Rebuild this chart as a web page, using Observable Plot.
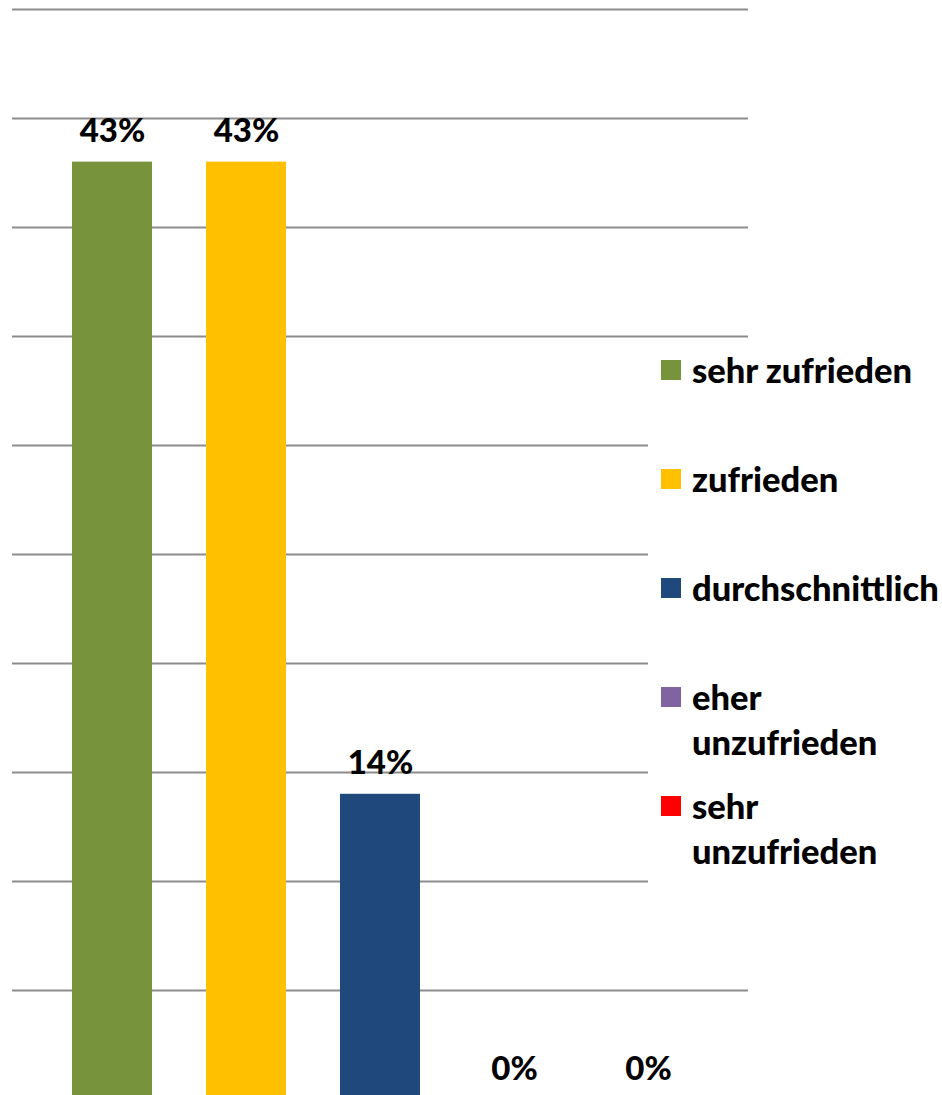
<!DOCTYPE html>
<html>
<head>
<meta charset="utf-8">
<script src="https://cdn.jsdelivr.net/npm/d3@7"></script>
<script src="https://cdn.jsdelivr.net/npm/@observablehq/plot@0.6"></script>
<style>
  html, body { margin: 0; padding: 0; background: #fff; overflow: hidden; }
  #wrap { position: relative; width: 942px; height: 1095px; }
  #legend {
    position: absolute; left: 648px; top: 347px; width: 294px; height: 538px;
    background: #fff; font-family: Lato, "Open Sans", sans-serif; font-weight: 900;
    font-size: 34.5px; color: #000;
  }
  .row { display: flex; align-items: flex-start; height: 109px; padding-left: 13px; }
  .sw { width: 20px; height: 20px; flex: none; margin-top: 13px; margin-right: 11px; }
  .lab { line-height: 45px; width: 260px; white-space: nowrap; }
</style>
</head>
<body>
<div id="wrap"></div>
<script>
const categories = ["sehr zufrieden", "zufrieden", "durchschnittlich", "eher unzufrieden", "sehr unzufrieden"];
const values = [43, 43, 14, 0, 0];
const colors = ["#77933C", "#FFC000", "#1F497D", "#8064A2", "#FF0000"];
const legendLines = [["sehr zufrieden"], ["zufrieden"], ["durchschnittlich"], ["eher", "unzufrieden"], ["sehr", "unzufrieden"]];
const gridTicks = [0, 5, 10, 15, 20, 25, 30, 35, 40, 45, 50];

const data = categories.map((c, i) => ({category: c, value: values[i]}));

const chart = Plot.plot({
  width: 942,
  height: 1100,
  marginTop: 9,
  marginBottom: 1,
  marginLeft: 12,
  marginRight: 194,
  style: {fontFamily: "Lato, 'Open Sans', sans-serif", background: "#fff", overflow: "visible"},
  x: {domain: categories, paddingInner: 0.4, paddingOuter: 0.445, axis: null},
  y: {domain: [0, 50], axis: null},
  color: {domain: categories, range: colors},
  marks: [
    Plot.ruleY(gridTicks, {stroke: "#8c8c8c", strokeWidth: 2}),
    Plot.barY(data, {x: "category", y: "value", fill: "category"}),
    Plot.text(data, {
      x: "category", y: "value", text: d => `${Math.round(d.value)}%`,
      lineAnchor: "bottom", dy: -20, fontSize: 33, fontWeight: 900, fill: "#000"
    })
  ]
});

const wrap = document.getElementById("wrap");
wrap.appendChild(chart);

const legend = document.createElement("div");
legend.id = "legend";
categories.forEach((c, i) => {
  const row = document.createElement("div");
  row.className = "row";
  const sw = document.createElement("div");
  sw.className = "sw";
  sw.style.background = colors[i];
  const lab = document.createElement("div");
  lab.className = "lab";
  lab.innerHTML = legendLines[i].join("<br>");
  row.appendChild(sw);
  row.appendChild(lab);
  legend.appendChild(row);
});
wrap.appendChild(legend);
</script>
</body>
</html>
